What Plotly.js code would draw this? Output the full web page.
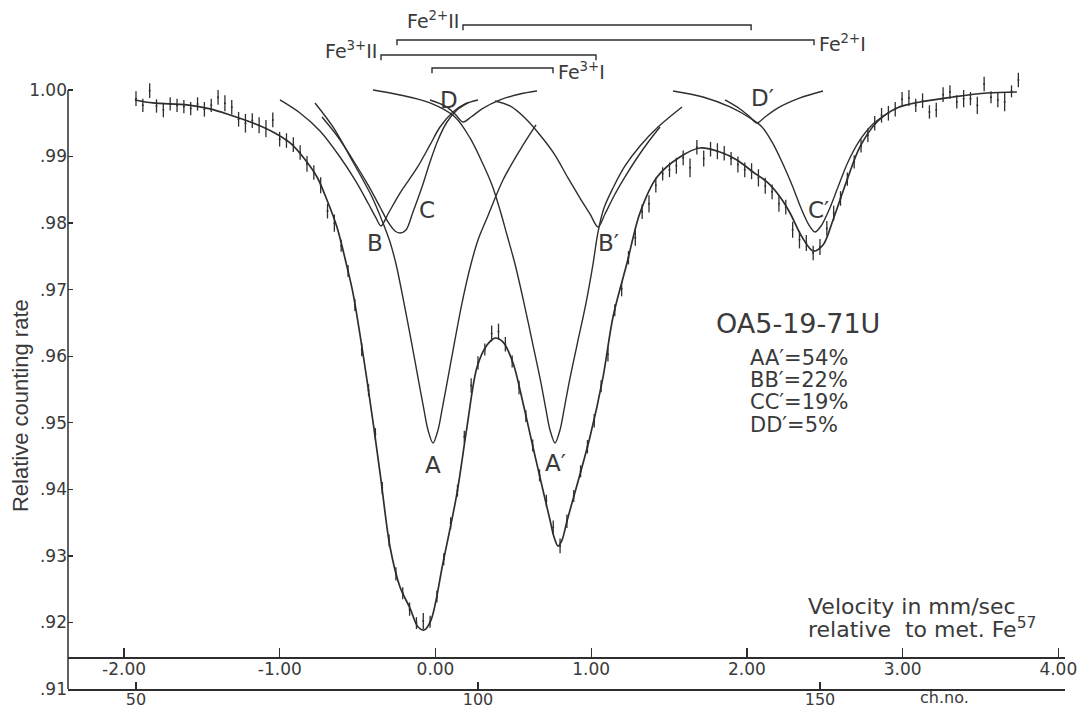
<!DOCTYPE html>
<html>
<head>
<meta charset="utf-8">
<script src="https://cdn.plot.ly/plotly-3.0.1.min.js"></script>
<style>html,body{margin:0;padding:0;background:#fff;}#chart{width:1082px;height:709px;}</style>
</head>
<body>
<div id="chart"></div>
<script>
// ---------- data ----------
// channel numbers of the measured points
const channels = [50,51,52,53,54,55,56,57,58,59,60,61,62,63,64,65,66,67,68,69,70,71,72,73,74,75,76,77,78,79,
80,81,82,83,84,85,86,87,88,89,90,91,92,93,94,95,96,97,98,99,100,101,102,103,104,105,106,107,108,109,110,
111,112,113,114,115,116,117,118,119,120,121,122,123,124,125,126,127,128,129,130,131,132,133,134,135,136,
137,138,139,140,141,142,143,144,145,146,147,148,149,150,151,152,153,154,155,156,157,158,159,160,161,162,
163,164,165,166,167,168,169,170,171,172,173,174,175,176,177,178,179];
// relative counting rate of the measured points
const rates = [0.9987,0.9977,0.9999,0.9976,0.9970,0.9979,0.9977,0.9975,0.9972,0.9979,0.9971,0.9977,0.9989,0.9980,0.9974,
0.9956,0.9950,0.9954,0.9947,0.9942,0.9955,0.9926,0.9924,0.9918,0.9906,0.9889,0.9876,0.9857,0.9818,0.9800,
0.9766,0.9728,0.9677,0.9610,0.9549,0.9483,0.9402,0.9323,0.9273,0.9244,0.9220,0.9199,0.9202,0.9201,0.9239,
0.9295,0.9349,0.9398,0.9479,0.9556,0.9590,0.9610,0.9634,0.9637,0.9618,0.9592,0.9553,0.9510,0.9466,0.9421,
0.9383,0.9343,0.9315,0.9352,0.9390,0.9427,0.9464,0.9503,0.9555,0.9603,0.9669,0.9701,0.9748,0.9778,0.9817,
0.9829,0.9857,0.9874,0.9880,0.9886,0.9898,0.9883,0.9914,0.9897,0.9911,0.9908,0.9905,0.9897,0.9888,0.9880,
0.9878,0.9868,0.9856,0.9847,0.9829,0.9824,0.9790,0.9775,0.9770,0.9755,0.9764,0.9792,0.9815,0.9837,0.9866,
0.9892,0.9916,0.9932,0.9950,0.9962,0.9965,0.9971,0.9986,0.9988,0.9977,0.9984,0.9967,0.9970,0.9993,0.9997,
0.9982,0.9987,0.9987,0.9977,1.0009,0.9989,0.9985,0.9982,0.9998,1.0015];
// half-length of each error bar
const rateErrors = [0.0011,0.0010,0.0011,0.0010,0.0011,0.0010,0.0010,0.0010,0.0010,0.0010,0.0011,0.0010,0.0011,0.0012,0.0011,
0.0011,0.0014,0.0011,0.0012,0.0013,0.0011,0.0011,0.0011,0.0011,0.0011,0.0012,0.0011,0.0012,0.0011,0.0013,
0.0009,0.0009,0.0009,0.0010,0.0009,0.0009,0.0009,0.0009,0.0010,0.0009,0.0010,0.0009,0.0012,0.0009,0.0009,
0.0009,0.0009,0.0009,0.0009,0.0011,0.0010,0.0009,0.0012,0.0012,0.0011,0.0009,0.0010,0.0009,0.0009,0.0009,
0.0009,0.0010,0.0011,0.0010,0.0009,0.0009,0.0010,0.0010,0.0009,0.0011,0.0009,0.0011,0.0010,0.0012,0.0011,
0.0013,0.0011,0.0010,0.0011,0.0012,0.0011,0.0014,0.0011,0.0012,0.0011,0.0012,0.0011,0.0010,0.0012,0.0011,
0.0012,0.0013,0.0012,0.0011,0.0012,0.0011,0.0012,0.0013,0.0012,0.0011,0.0012,0.0011,0.0011,0.0011,0.0010,
0.0010,0.0010,0.0010,0.0011,0.0011,0.0011,0.0011,0.0011,0.0012,0.0010,0.0011,0.0010,0.0011,0.0011,0.0010,
0.0010,0.0013,0.0010,0.0013,0.0011,0.0009,0.0011,0.0014,0.0009,0.0011];

// fitted envelope (velocity mm/s, rate)
const fitVel = [-1.931,-1.815,-1.596,-1.448,-1.320,-1.172,-1.044,-0.934,-0.851,-0.761,-0.697,-0.633,-0.568,-0.530,-0.440,
-0.356,-0.292,-0.228,-0.164,-0.112,-0.074,-0.029,0.048,0.138,0.202,0.267,0.331,0.382,0.434,0.498,0.562,0.626,0.690,
0.7354,0.7611,0.7868,0.8125,0.8446,0.992,1.076,1.140,1.230,1.313,1.423,1.570,1.699,1.827,1.936,2.039,2.129,2.213,2.277,2.354,2.425,
2.489,2.553,2.643,2.726,2.835,2.964,3.112,3.324,3.542,3.734];
const fitRate = [0.99850,0.99805,0.99775,0.99715,0.99624,0.99504,0.99369,0.99204,0.98993,0.98693,0.98347,0.97941,0.97340,0.96949,0.95642,
0.94245,0.93133,0.92532,0.92216,0.91931,0.91886,0.92036,0.92893,0.93944,0.94936,0.95838,0.96168,0.96273,0.96213,0.95898,0.95297,0.94636,0.93989,
0.93539,0.93283,0.93148,0.93238,0.93524,0.94786,0.95687,0.96589,0.97400,0.98152,0.98693,0.98993,0.99128,0.99068,0.98948,0.98768,0.98618,0.98392,0.98152,0.97791,0.97581,
0.97671,0.98047,0.98648,0.99144,0.99519,0.99730,0.99820,0.99895,0.99955,0.99970];

// component lines
const compA_vel  = [-0.7739,-0.6583,-0.5299,-0.4079,-0.3372,-0.2922,-0.2537,-0.2023,-0.1509,-0.1060,-0.0739,-0.0482,-0.0161,0.0161,0.0418,0.0739,0.1188,0.1702,0.2280,0.2730,0.3308,0.4335,0.5427,0.6455];
const compA_rate = [0.99805,0.99444,0.98918,0.98392,0.98002,0.97716,0.97385,0.96799,0.96168,0.95597,0.95192,0.94891,0.94696,0.94891,0.95192,0.95597,0.96168,0.96799,0.97385,0.97746,0.98077,0.98648,0.99098,0.99474];
const compA2_vel  = [-0.4014,-0.2280,-0.0353,0.1252,0.2216,0.2987,0.3629,0.4143,0.4592,0.5106,0.5684,0.6262,0.6776,0.7097,0.7354,0.7675,0.7996,0.8253,0.8574,0.9088,0.9666,1.0116,1.0437,1.0822,1.1400,1.2171,1.3134,1.4290,1.5832];
const compA2_rate = [1.00000,0.99925,0.99805,0.99594,0.99279,0.98918,0.98573,0.98197,0.97821,0.97385,0.96799,0.96168,0.95597,0.95192,0.94891,0.94696,0.94891,0.95192,0.95597,0.96168,0.96799,0.97385,0.97866,0.98227,0.98527,0.98858,0.99159,0.99444,0.99745];
const compB_vel  = [-0.9987,-0.8703,-0.7418,-0.6133,-0.5170,-0.4335,-0.3821,-0.3500,-0.3051,-0.2280,-0.1188,-0.0353,0.0289,0.1124,0.1895,0.2730];
const compB_rate = [0.99850,0.99654,0.99384,0.98993,0.98648,0.98302,0.98077,0.97956,0.98137,0.98452,0.98828,0.99174,0.99444,0.99669,0.99790,0.99850];
const compB2_vel  = [0.3821,0.4785,0.5748,0.6712,0.7675,0.8510,0.9281,0.9923,1.0437,1.0886,1.1464,1.2171,1.2941,1.3712,1.4419];
const compB2_rate = [0.99835,0.99760,0.99579,0.99324,0.99023,0.98678,0.98377,0.98137,0.97941,0.98137,0.98407,0.98693,0.98978,0.99234,0.99444];
const compC_vel  = [-0.7290,-0.6262,-0.5299,-0.4335,-0.3565,-0.3051,-0.2601,-0.2280,-0.1895,-0.1445,-0.0867,-0.0353,0.0161,0.0739,0.1381,0.2087];
const compC_rate = [0.99594,0.99294,0.98948,0.98573,0.98242,0.98017,0.97881,0.97851,0.97896,0.98167,0.98542,0.98918,0.99249,0.99519,0.99699,0.99805];
const compC2_vel  = [1.5254,1.7181,1.8915,2.0199,2.0970,2.1612,2.2254,2.2897,2.3475,2.3988,2.4374,2.4759,2.5273,2.5851,2.6493,2.7264,2.8099,2.9062];
const compC2_rate = [0.99985,0.99895,0.99745,0.99579,0.99444,0.99219,0.98918,0.98573,0.98227,0.97971,0.97866,0.97956,0.98197,0.98542,0.98918,0.99249,0.99489,0.99654];
const compD_vel  = [-0.0353,0.0610,0.1252,0.1766,0.2280,0.2987,0.4143,0.5427,0.6519];
const compD_rate = [0.99850,0.99760,0.99639,0.99519,0.99594,0.99715,0.99850,0.99940,0.99985];
const compD2_vel  = [1.8593,1.9557,2.0199,2.0649,2.1163,2.1998,2.3410,2.4888];
const compD2_rate = [0.99850,0.99715,0.99594,0.99504,0.99594,0.99730,0.99880,0.99985];

// component letters
const peakLabels = ['A','A\u2032','B','B\u2032','C','C\u2032','D','D\u2032'];
const peakLabelVel  = [-0.016,0.768,-0.389,1.108,-0.055,2.457,0.087,2.097];
const peakLabelRate = [0.94365,0.94395,0.97701,0.97701,0.98197,0.98197,0.99850,0.99880];

// site brackets on top
const bracketLabels = ['Fe<sup>2+</sup>II','Fe<sup>2+</sup>I','Fe<sup>3+</sup>II','Fe<sup>3+</sup>I'];
const bracketLeft  = [0.1766,-0.2473,-0.3500,-0.0225];
const bracketRight = [2.0270,2.4310,1.0308,0.7547];
const bracketLevel = [1.00977,1.00751,1.00526,1.00331];
const bracketLabelSide = ['left','right','left','right'];

// sample text
const sampleName = 'OA5-19-71U';
const areaLines = ['AA\u2032=54%','BB\u2032=22%','CC\u2032=19%','DD\u2032=5%'];

// axes ticks
const velTicks = [-2,-1,0,1,2,3,4];
const velTickText = ['-2.00','-1.00','0.00','1.00','2.00','3.00','4.00'];
const chTicks = [50,100,150];
const chTickText = ['50','100','150'];
const rateTicks = [0.91,0.92,0.93,0.94,0.95,0.96,0.97,0.98,0.99,1.00];
const rateTickText = ['.91','.92','.93','.94','.95','.96','.97','.98','.99','1.00'];

// ---------- drawing ----------
const INK = '#2e2e2e';
const TXT = '#3a3a3a';
const FONT = 'DejaVu Sans, Verdana, sans-serif';

const comps = [
  [compA_vel, compA_rate],[compA2_vel, compA2_rate],[compB_vel, compB_rate],[compB2_vel, compB2_rate],
  [compC_vel, compC_rate],[compC2_vel, compC2_rate],[compD_vel, compD_rate],[compD2_vel, compD2_rate]
];
const traces = [];
comps.forEach(c => traces.push({
  x: c[0], y: c[1], xaxis: 'x', yaxis: 'y', mode: 'lines',
  line: {color: INK, width: 1.4, shape: 'spline', smoothing: 0.9}, hoverinfo: 'skip'
}));
traces.push({
  x: fitVel, y: fitRate, xaxis: 'x', yaxis: 'y', mode: 'lines',
  line: {color: INK, width: 1.7, shape: 'spline', smoothing: 0.9}, hoverinfo: 'skip'
});
traces.push({
  x: channels, y: rates, xaxis: 'x2', yaxis: 'y', mode: 'markers',
  marker: {size: 2, color: INK},
  error_y: {type: 'data', array: rateErrors, symmetric: true, width: 0, thickness: 1.3, color: INK},
  hoverinfo: 'skip'
});
const tick = 0.0008;
for (let i = 0; i < bracketLabels.length; i++) {
  traces.push({
    x: [bracketLeft[i], bracketLeft[i], bracketRight[i], bracketRight[i]],
    y: [bracketLevel[i] - tick, bracketLevel[i], bracketLevel[i], bracketLevel[i] - tick],
    xaxis: 'x', yaxis: 'y', mode: 'lines', line: {color: INK, width: 1.4}, hoverinfo: 'skip'
  });
}

const annotations = [];
peakLabels.forEach((t, i) => annotations.push({
  text: t, x: peakLabelVel[i], y: peakLabelRate[i], xref: 'x', yref: 'y',
  xanchor: 'center', yanchor: 'middle',
  showarrow: false, font: {family: FONT, size: 23, color: TXT}
}));
bracketLabels.forEach((t, i) => {
  const left = bracketLabelSide[i] === 'left';
  annotations.push({
    text: t, x: left ? bracketLeft[i] - 0.01 : bracketRight[i] + 0.02,
    y: bracketLevel[i] + (left ? 0.0007 : -0.0004), xref: 'x', yref: 'y',
    xanchor: left ? 'right' : 'left', yanchor: 'middle', showarrow: false,
    font: {family: FONT, size: 19, color: TXT}
  });
});
annotations.push({text: sampleName, x: 2.328, y: 0.96499, xref: 'x', yref: 'y', xanchor: 'center', yanchor: 'middle',
  showarrow: false, font: {family: FONT, size: 27, color: TXT}});
const areaY = [0.95973, 0.95642, 0.95312, 0.94966];
areaLines.forEach((t, i) => annotations.push({text: t, x: 2.007, y: areaY[i], xref: 'x', yref: 'y',
  xanchor: 'left', yanchor: 'middle', showarrow: false, font: {family: FONT, size: 21, color: TXT}}));
annotations.push({text: 'Velocity in mm/sec', x: 2.38, y: 0.92246, xref: 'x', yref: 'y', xanchor: 'left', yanchor: 'middle',
  showarrow: false, font: {family: FONT, size: 22, color: TXT}});
annotations.push({text: 'relative  to met. Fe<sup>57</sup>', x: 2.38, y: 0.91916, xref: 'x', yref: 'y', xanchor: 'left', yanchor: 'middle',
  showarrow: false, font: {family: FONT, size: 22, color: TXT}});
annotations.push({text: 'ch.no.', x: 0.853, y: -0.0130, xref: 'paper', yref: 'paper', xanchor: 'left', yanchor: 'middle',
  showarrow: false, font: {family: FONT, size: 16, color: TXT}});
annotations.push({text: 'Relative counting rate', x: -0.0481, y: 0.95252, xref: 'paper', yref: 'y', textangle: -90,
  xanchor: 'center', yanchor: 'middle',
  showarrow: false, font: {family: 'Liberation Sans, Arial, sans-serif', size: 22, color: TXT}});

const axisStyle = {
  showline: true, linecolor: INK, linewidth: 1.5, ticks: 'inside', tickwidth: 1.3, tickcolor: INK,
  showgrid: false, zeroline: false, fixedrange: true,
  tickfont: {family: FONT, size: 17, color: TXT}
};

const layout = {
  width: 1082, height: 709,
  margin: {l: 68, r: 17, t: 0, b: 20, pad: 0},
  paper_bgcolor: '#fff', plot_bgcolor: '#fff',
  showlegend: false, hovermode: false,
  xaxis: Object.assign({}, axisStyle, {
    range: [-2.3603, 4.0430], anchor: 'free', position: 0.04644,
    tickmode: 'array', tickvals: velTicks, ticktext: velTickText, ticklen: 9, ticklabelstandoff: -4
  }),
  xaxis2: Object.assign({}, axisStyle, {
    range: [40.06, 185.82], overlaying: 'x', anchor: 'y', side: 'bottom',
    tickmode: 'array', tickvals: chTicks, ticktext: chTickText, ticklen: 7, ticklabelstandoff: -5,
    tickfont: {family: FONT, size: 16, color: TXT}
  }),
  yaxis: Object.assign({}, axisStyle, {
    range: [0.91, 1.01352], showline: false, ticklen: 5,
    tickmode: 'array', tickvals: rateTicks, ticktext: rateTickText
  }),
  shapes: [{type: 'line', xref: 'paper', x0: 0, x1: 0, yref: 'y', y0: 0.91, y1: 1.0,
    line: {color: INK, width: 1.5}}],
  annotations: annotations
};

Plotly.newPlot('chart', traces, layout, {displayModeBar: false, staticPlot: true});
</script>
</body>
</html>
